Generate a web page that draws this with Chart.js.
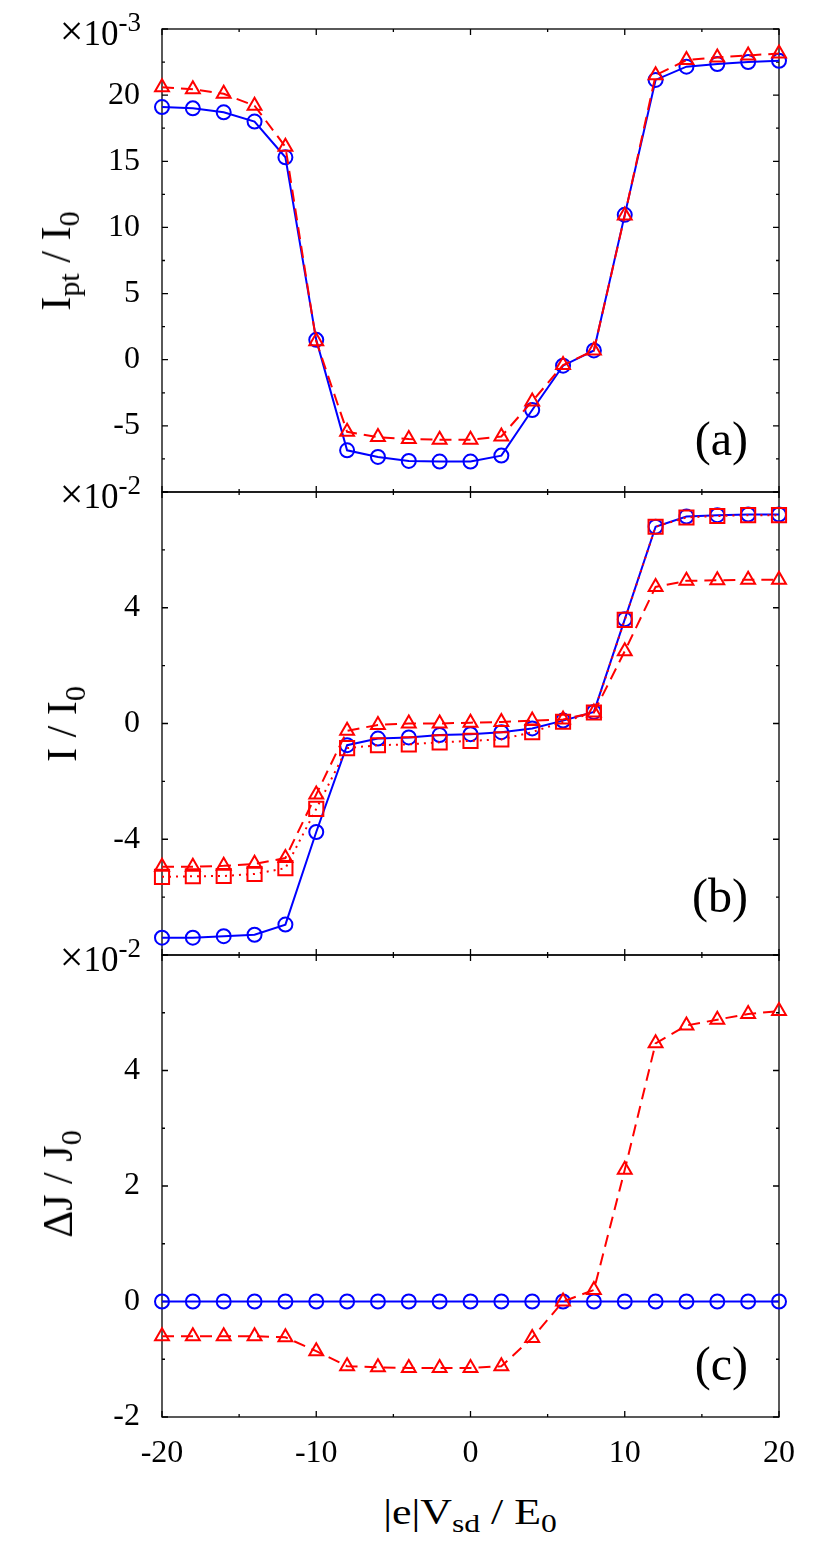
<!DOCTYPE html>
<html>
<head>
<meta charset="utf-8">
<title>Current vs bias voltage</title>
<script src="https://cdn.jsdelivr.net/npm/chart.js@4.4.1/dist/chart.umd.min.js"></script>
<style>
    html, body { margin: 0; padding: 0; background: #fff; }
    #page { position: relative; width: 831px; height: 1547px; overflow: hidden; color: #000;
            font-family: 'Liberation Serif', 'Times New Roman', serif; }
    .panel { position: absolute; left: 0; width: 831px; }
    .panel canvas { display: block; }
    .txt { position: absolute; white-space: nowrap; line-height: 1; }
    .mult { font-size: 35px; width: 130px; left: 11px; text-align: right; }
    .mult .times { font-size: 42px; line-height: 0; }
    .mult sup { font-size: 27px; position: relative; top: -14px; vertical-align: baseline; }
    .ytitle { font-size: 42px; transform: translate(-50%, -50%) rotate(-90deg); }
    .xtitle { font-size: 36px; left: 470px; top: 1494px; transform: translateX(-50%) scaleX(1.22); }
    .plabel { font-size: 48px; width: 100px; text-align: right; right: 83px; }
    sub { font-size: 0.72em; vertical-align: baseline; position: relative; top: 0.3em; }
</style>
</head>
<body>
<div id="page">
    <div class="panel" style="top:0px"><canvas id="chartA" width="831" height="520"></canvas></div>
    <div class="panel" style="top:470px"><canvas id="chartB" width="831" height="510"></canvas></div>
    <div class="panel" style="top:930px"><canvas id="chartC" width="831" height="560"></canvas></div>

    <div class="txt mult" style="top:16px"><span class="times">&times;</span>10<sup>-3</sup></div>
    <div class="txt mult" style="top:479px"><span class="times">&times;</span>10<sup>-2</sup></div>
    <div class="txt mult" style="top:942px"><span class="times">&times;</span>10<sup>-2</sup></div>

    <div class="txt ytitle" style="left:56px; top:261px">I<sub>pt</sub> / I<sub>0</sub></div>
    <div class="txt ytitle" style="left:62px; top:724px">I / I<sub>0</sub></div>
    <div class="txt ytitle" style="left:58px; top:1184px">&Delta;J / J<sub>0</sub></div>

    <div class="txt plabel" style="top:415px">(a)</div>
    <div class="txt plabel" style="top:872px">(b)</div>
    <div class="txt plabel" style="top:1340px">(c)</div>

    <div class="txt xtitle">|e|V<sub>sd</sub> / E<sub>0</sub></div>
</div>

<script>
//Data
const biasValues = [-20, -18, -16, -14, -12, -10, -8, -6, -4, -2, 0, 2, 4, 6, 8, 10, 12, 14, 16, 18, 20];

// panel (a), units of 1e-3
const ptCircles = [19.1, 19.0, 18.7, 18.0, 15.3, 1.5, -6.85, -7.35, -7.65, -7.7, -7.7, -7.25, -3.8, -0.45, 0.7, 10.95, 21.15, 22.15, 22.35, 22.5, 22.6];
const ptTriangles = [20.6, 20.45, 20.1, 19.2, 16.1, 1.4, -5.45, -5.85, -6.0, -6.05, -6.05, -5.8, -3.15, -0.4, 0.7, 10.9, 21.5, 22.65, 22.85, 23.0, 23.15];

// panel (b), units of 1e-2
const curCircles = [-7.4, -7.4, -7.35, -7.3, -6.95, -3.75, -0.75, -0.52, -0.48, -0.4, -0.37, -0.3, -0.17, 0.1, 0.4, 3.6, 6.8, 7.15, 7.2, 7.22, 7.22];
const curTriangles = [-4.95, -4.95, -4.92, -4.85, -4.65, -2.45, -0.25, -0.05, 0.0, 0.0, 0.03, 0.05, 0.1, 0.14, 0.38, 2.5, 4.72, 4.93, 4.95, 4.97, 4.97];
const curSquares = [-5.3, -5.28, -5.27, -5.2, -5.0, -2.95, -0.85, -0.75, -0.72, -0.65, -0.6, -0.55, -0.3, 0.06, 0.38, 3.58, 6.8, 7.12, 7.17, 7.2, 7.2];

// panel (c), units of 1e-2
const djCircles = [0, 0, 0, 0, 0, 0, 0, 0, 0, 0, 0, 0, 0, 0, 0, 0, 0, 0, 0, 0, 0];
const djTriangles = [-0.6, -0.6, -0.6, -0.6, -0.62, -0.86, -1.12, -1.14, -1.15, -1.15, -1.15, -1.12, -0.63, 0.0, 0.2, 2.28, 4.47, 4.78, 4.88, 4.98, 5.03];

const BLUE = '#0000ff';
const RED = '#ff0000';
const tickFont = { family: "'Liberation Serif', 'Times New Roman', serif", size: 32 };

document.addEventListener('DOMContentLoaded', function () {
    //Frame with inward ticks on all four sides (gnuplot look)
    const frameTicks = {
        id: 'frameTicks',
        beforeDatasetsDraw(chart, args, opts) {
            const { ctx, chartArea: a } = chart;
            const xs = chart.scales.x;
            const ys = chart.scales.y;
            ctx.save();
            ctx.strokeStyle = '#000';
            ctx.lineWidth = 1.3;
            ctx.strokeRect(a.left, a.top, a.right - a.left, a.bottom - a.top);
            ctx.beginPath();
            xs.ticks.forEach(t => {
                const px = xs.getPixelForValue(t.value);
                const len = t.value % opts.xMajor === 0 ? 6 : 3;
                ctx.moveTo(px, a.bottom); ctx.lineTo(px, a.bottom - len);
                ctx.moveTo(px, a.top); ctx.lineTo(px, a.top + len);
            });
            ys.ticks.forEach(t => {
                const py = ys.getPixelForValue(t.value);
                const len = t.value % opts.yMajor === 0 ? 6 : 3;
                ctx.moveTo(a.left, py); ctx.lineTo(a.left + len, py);
                ctx.moveTo(a.right, py); ctx.lineTo(a.right - len, py);
            });
            ctx.stroke();
            ctx.restore();
        }
    };

    function series(values, color, style, radius, dash) {
        return {
            data: biasValues.map((x, i) => ({ x: x, y: values[i] })),
            borderColor: color,
            backgroundColor: 'rgba(0, 0, 0, 0)',
            borderWidth: 2,
            borderDash: dash,
            pointStyle: style,
            pointRadius: radius,
            pointBorderWidth: 2,
            pointBorderColor: color,
            pointBackgroundColor: 'rgba(0, 0, 0, 0)',
            fill: false,
            tension: 0,
            clip: false
        };
    }

    //Chart Rendering
    // tick marks are hidden (grid.display false) but tickLength is kept
    // as label offset, so tick padding does not eat into the plot height
    function createChart(canvasId, datasets, y, padTop, xHeight, showX) {
        const ctx = document.getElementById(canvasId).getContext('2d');
        new Chart(ctx, {
            type: 'line',
            data: { datasets: datasets },
            options: {
                responsive: false,
                animation: false,
                events: [],
                layout: { padding: { top: padTop, right: 52, bottom: 0, left: 0 } },
                plugins: {
                    legend: { display: false },
                    tooltip: { enabled: false },
                    frameTicks: { xMajor: 10, yMajor: y.major }
                },
                scales: {
                    x: {
                        type: 'linear', min: -20, max: 20,
                        grid: { display: false, drawTicks: true, tickLength: 17 },
                        border: { display: false },
                        ticks: {
                            display: showX, stepSize: 5, maxTicksLimit: 100, autoSkip: false,
                            maxRotation: 0, padding: 0, color: '#000', font: tickFont,
                            callback: v => (v % 10 === 0 ? String(v) : '')
                        },
                        afterFit: s => { s.height = xHeight; }
                    },
                    y: {
                        type: 'linear', min: y.min, max: y.max,
                        grid: { display: false, drawTicks: true, tickLength: 22 },
                        border: { display: false },
                        ticks: {
                            stepSize: y.step, maxTicksLimit: 100, autoSkip: false,
                            padding: 0, color: '#000', font: tickFont,
                            callback: v => (v % y.major === 0 && v >= y.labelMin && v < y.max ? String(v) : '')
                        },
                        afterFit: s => { s.width = 162; }
                    }
                }
            },
            plugins: [frameTicks]
        });
    }

    createChart('chartA', [
        series(ptTriangles, RED, 'triangle', 8, [12, 7]),
        series(ptCircles, BLUE, 'circle', 7, [])
    ], { min: -10, max: 25, step: 2.5, major: 5, labelMin: -5 }, 29, 28, false);

    createChart('chartB', [
        series(curSquares, RED, 'rect', 10, [2, 5]),
        series(curTriangles, RED, 'triangle', 8, [12, 7]),
        series(curCircles, BLUE, 'circle', 7, [])
    ], { min: -8, max: 8, step: 2, major: 4, labelMin: -4 }, 22, 25, false);

    createChart('chartC', [
        series(djTriangles, RED, 'triangle', 8, [12, 7]),
        series(djCircles, BLUE, 'circle', 7, [])
    ], { min: -2, max: 6, step: 1, major: 2, labelMin: -2 }, 25, 73, true);
});
</script>
</body>
</html>
